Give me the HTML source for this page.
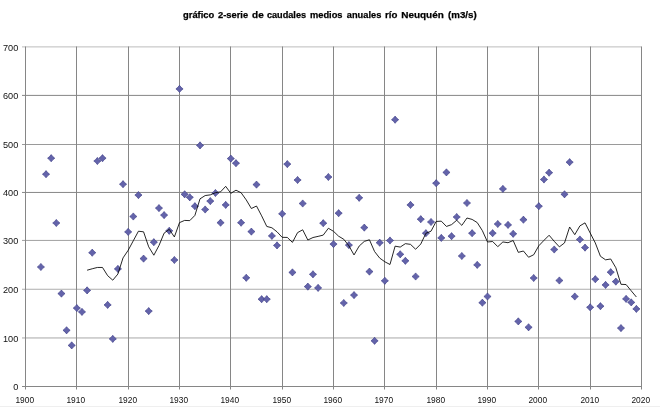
<!DOCTYPE html><html><head><meta charset="utf-8"><style>html,body{margin:0;padding:0;background:#fff;}body{width:660px;height:407px;overflow:hidden;}svg{display:block;will-change:transform;}text{font-family:"Liberation Sans",Arial,sans-serif;}</style></head><body>
<svg width="660" height="407" viewBox="0 0 660 407">
<rect x="0" y="0" width="660" height="407" fill="#fff"/>
<rect x="0" y="406" width="660" height="1" fill="#efefef"/>
<line x1="22" y1="46.9" x2="641.5" y2="46.9" stroke="#bcbcbc" stroke-width="1"/>
<line x1="22" y1="95.4" x2="641.5" y2="95.4" stroke="#868686" stroke-width="1"/>
<line x1="22" y1="144.5" x2="641.5" y2="144.5" stroke="#9a9a9a" stroke-width="1"/>
<line x1="22" y1="192.45" x2="641.5" y2="192.45" stroke="#868686" stroke-width="1"/>
<line x1="22" y1="240.42" x2="641.5" y2="240.42" stroke="#a0a0a0" stroke-width="1"/>
<line x1="22" y1="289.25" x2="641.5" y2="289.25" stroke="#adadad" stroke-width="1"/>
<line x1="22" y1="337.96" x2="641.5" y2="337.96" stroke="#a8a8a8" stroke-width="1"/>
<line x1="25.5" y1="46.5" x2="25.5" y2="389.5" stroke="#868686" stroke-width="1"/>
<line x1="76.5" y1="46.5" x2="76.5" y2="389.5" stroke="#868686" stroke-width="1"/>
<line x1="128.5" y1="46.5" x2="128.5" y2="389.5" stroke="#868686" stroke-width="1"/>
<line x1="179.5" y1="46.5" x2="179.5" y2="389.5" stroke="#868686" stroke-width="1"/>
<line x1="230.5" y1="46.5" x2="230.5" y2="389.5" stroke="#868686" stroke-width="1"/>
<line x1="282.5" y1="46.5" x2="282.5" y2="389.5" stroke="#868686" stroke-width="1"/>
<line x1="333.5" y1="46.5" x2="333.5" y2="389.5" stroke="#868686" stroke-width="1"/>
<line x1="384.5" y1="46.5" x2="384.5" y2="389.5" stroke="#868686" stroke-width="1"/>
<line x1="436.5" y1="46.5" x2="436.5" y2="389.5" stroke="#868686" stroke-width="1"/>
<line x1="487.5" y1="46.5" x2="487.5" y2="389.5" stroke="#868686" stroke-width="1"/>
<line x1="538.5" y1="46.5" x2="538.5" y2="389.5" stroke="#868686" stroke-width="1"/>
<line x1="590.5" y1="46.5" x2="590.5" y2="389.5" stroke="#868686" stroke-width="1"/>
<line x1="641.5" y1="46.5" x2="641.5" y2="389.5" stroke="#868686" stroke-width="1"/>
<line x1="22" y1="386.5" x2="641.5" y2="386.5" stroke="#868686" stroke-width="1"/>
<text x="18.3" y="50.50" font-size="8.2" text-anchor="end" fill="#111" textLength="15.3" lengthAdjust="spacingAndGlyphs">700</text>
<text x="18.3" y="99.00" font-size="8.2" text-anchor="end" fill="#111" textLength="15.3" lengthAdjust="spacingAndGlyphs">600</text>
<text x="18.3" y="148.10" font-size="8.2" text-anchor="end" fill="#111" textLength="15.3" lengthAdjust="spacingAndGlyphs">500</text>
<text x="18.3" y="196.05" font-size="8.2" text-anchor="end" fill="#111" textLength="15.3" lengthAdjust="spacingAndGlyphs">400</text>
<text x="18.3" y="244.02" font-size="8.2" text-anchor="end" fill="#111" textLength="15.3" lengthAdjust="spacingAndGlyphs">300</text>
<text x="18.3" y="292.64" font-size="8.2" text-anchor="end" fill="#111" textLength="15.3" lengthAdjust="spacingAndGlyphs">200</text>
<text x="18.3" y="341.56" font-size="8.2" text-anchor="end" fill="#111" textLength="15.3" lengthAdjust="spacingAndGlyphs">100</text>
<text x="18.3" y="390.10" font-size="8.2" text-anchor="end" fill="#111" textLength="5.1" lengthAdjust="spacingAndGlyphs">0</text>
<text x="24.75" y="403.1" font-size="8.6" text-anchor="middle" fill="#111" textLength="18.6" lengthAdjust="spacingAndGlyphs">1900</text>
<text x="75.75" y="403.1" font-size="8.6" text-anchor="middle" fill="#111" textLength="18.6" lengthAdjust="spacingAndGlyphs">1910</text>
<text x="127.75" y="403.1" font-size="8.6" text-anchor="middle" fill="#111" textLength="18.6" lengthAdjust="spacingAndGlyphs">1920</text>
<text x="178.75" y="403.1" font-size="8.6" text-anchor="middle" fill="#111" textLength="18.6" lengthAdjust="spacingAndGlyphs">1930</text>
<text x="229.75" y="403.1" font-size="8.6" text-anchor="middle" fill="#111" textLength="18.6" lengthAdjust="spacingAndGlyphs">1940</text>
<text x="281.75" y="403.1" font-size="8.6" text-anchor="middle" fill="#111" textLength="18.6" lengthAdjust="spacingAndGlyphs">1950</text>
<text x="332.75" y="403.1" font-size="8.6" text-anchor="middle" fill="#111" textLength="18.6" lengthAdjust="spacingAndGlyphs">1960</text>
<text x="383.75" y="403.1" font-size="8.6" text-anchor="middle" fill="#111" textLength="18.6" lengthAdjust="spacingAndGlyphs">1970</text>
<text x="435.75" y="403.1" font-size="8.6" text-anchor="middle" fill="#111" textLength="18.6" lengthAdjust="spacingAndGlyphs">1980</text>
<text x="486.75" y="403.1" font-size="8.6" text-anchor="middle" fill="#111" textLength="18.6" lengthAdjust="spacingAndGlyphs">1990</text>
<text x="537.75" y="403.1" font-size="8.6" text-anchor="middle" fill="#111" textLength="18.6" lengthAdjust="spacingAndGlyphs">2000</text>
<text x="589.75" y="403.1" font-size="8.6" text-anchor="middle" fill="#111" textLength="18.6" lengthAdjust="spacingAndGlyphs">2010</text>
<text x="640.75" y="403.1" font-size="8.6" text-anchor="middle" fill="#111" textLength="18.6" lengthAdjust="spacingAndGlyphs">2020</text>
<text x="183.0" y="17.5" font-size="9.8" font-weight="bold" fill="#000" stroke="#000" stroke-width="0.25" textLength="31.27" lengthAdjust="spacingAndGlyphs">gráfico</text>
<text x="218.0" y="17.5" font-size="9.8" font-weight="bold" fill="#000" stroke="#000" stroke-width="0.25" textLength="30.15" lengthAdjust="spacingAndGlyphs">2-serie</text>
<text x="252.1" y="17.5" font-size="9.8" font-weight="bold" fill="#000" stroke="#000" stroke-width="0.25" textLength="11.67" lengthAdjust="spacingAndGlyphs">de</text>
<text x="266.9" y="17.5" font-size="9.8" font-weight="bold" fill="#000" stroke="#000" stroke-width="0.25" textLength="39.21" lengthAdjust="spacingAndGlyphs">caudales</text>
<text x="310.0" y="17.5" font-size="9.8" font-weight="bold" fill="#000" stroke="#000" stroke-width="0.25" textLength="32.55" lengthAdjust="spacingAndGlyphs">medios</text>
<text x="346.8" y="17.5" font-size="9.8" font-weight="bold" fill="#000" stroke="#000" stroke-width="0.25" textLength="34.52" lengthAdjust="spacingAndGlyphs">anuales</text>
<text x="385.0" y="17.5" font-size="9.8" font-weight="bold" fill="#000" stroke="#000" stroke-width="0.25" textLength="12.36" lengthAdjust="spacingAndGlyphs">río</text>
<text x="401.2" y="17.5" font-size="9.8" font-weight="bold" fill="#000" stroke="#000" stroke-width="0.25" textLength="42.67" lengthAdjust="spacingAndGlyphs">Neuquén</text>
<text x="448.0" y="17.5" font-size="9.8" font-weight="bold" fill="#000" stroke="#000" stroke-width="0.25" textLength="28.67" lengthAdjust="spacingAndGlyphs">(m3/s)</text>
<polygon points="40.90,263.40 42.52,265.38 44.50,267.00 42.52,268.62 40.90,270.60 39.28,268.62 37.30,267.00 39.28,265.38" fill="#6363aa" stroke="#40408a" stroke-width="0.7"/>
<polygon points="46.03,170.60 47.65,172.58 49.63,174.20 47.65,175.82 46.03,177.80 44.41,175.82 42.43,174.20 44.41,172.58" fill="#6363aa" stroke="#40408a" stroke-width="0.7"/>
<polygon points="51.17,154.60 52.79,156.58 54.77,158.20 52.79,159.82 51.17,161.80 49.55,159.82 47.57,158.20 49.55,156.58" fill="#6363aa" stroke="#40408a" stroke-width="0.7"/>
<polygon points="56.30,219.40 57.92,221.38 59.90,223.00 57.92,224.62 56.30,226.60 54.68,224.62 52.70,223.00 54.68,221.38" fill="#6363aa" stroke="#40408a" stroke-width="0.7"/>
<polygon points="61.43,290.00 63.05,291.98 65.03,293.60 63.05,295.22 61.43,297.20 59.81,295.22 57.83,293.60 59.81,291.98" fill="#6363aa" stroke="#40408a" stroke-width="0.7"/>
<polygon points="66.57,326.70 68.19,328.68 70.17,330.30 68.19,331.92 66.57,333.90 64.95,331.92 62.97,330.30 64.95,328.68" fill="#6363aa" stroke="#40408a" stroke-width="0.7"/>
<polygon points="71.70,341.80 73.32,343.78 75.30,345.40 73.32,347.02 71.70,349.00 70.08,347.02 68.10,345.40 70.08,343.78" fill="#6363aa" stroke="#40408a" stroke-width="0.7"/>
<polygon points="76.83,304.50 78.45,306.48 80.43,308.10 78.45,309.72 76.83,311.70 75.21,309.72 73.23,308.10 75.21,306.48" fill="#6363aa" stroke="#40408a" stroke-width="0.7"/>
<polygon points="81.97,308.30 83.59,310.28 85.57,311.90 83.59,313.52 81.97,315.50 80.35,313.52 78.37,311.90 80.35,310.28" fill="#6363aa" stroke="#40408a" stroke-width="0.7"/>
<polygon points="87.10,286.80 88.72,288.78 90.70,290.40 88.72,292.02 87.10,294.00 85.48,292.02 83.50,290.40 85.48,288.78" fill="#6363aa" stroke="#40408a" stroke-width="0.7"/>
<polygon points="92.23,249.10 93.85,251.08 95.83,252.70 93.85,254.32 92.23,256.30 90.61,254.32 88.63,252.70 90.61,251.08" fill="#6363aa" stroke="#40408a" stroke-width="0.7"/>
<polygon points="97.37,157.40 98.99,159.38 100.97,161.00 98.99,162.62 97.37,164.60 95.75,162.62 93.77,161.00 95.75,159.38" fill="#6363aa" stroke="#40408a" stroke-width="0.7"/>
<polygon points="102.50,154.60 104.12,156.58 106.10,158.20 104.12,159.82 102.50,161.80 100.88,159.82 98.90,158.20 100.88,156.58" fill="#6363aa" stroke="#40408a" stroke-width="0.7"/>
<polygon points="107.63,301.30 109.25,303.28 111.23,304.90 109.25,306.52 107.63,308.50 106.01,306.52 104.03,304.90 106.01,303.28" fill="#6363aa" stroke="#40408a" stroke-width="0.7"/>
<polygon points="112.77,335.30 114.39,337.28 116.37,338.90 114.39,340.52 112.77,342.50 111.15,340.52 109.17,338.90 111.15,337.28" fill="#6363aa" stroke="#40408a" stroke-width="0.7"/>
<polygon points="117.90,265.30 119.52,267.28 121.50,268.90 119.52,270.52 117.90,272.50 116.28,270.52 114.30,268.90 116.28,267.28" fill="#6363aa" stroke="#40408a" stroke-width="0.7"/>
<polygon points="123.03,180.60 124.65,182.58 126.63,184.20 124.65,185.82 123.03,187.80 121.41,185.82 119.43,184.20 121.41,182.58" fill="#6363aa" stroke="#40408a" stroke-width="0.7"/>
<polygon points="128.17,228.30 129.79,230.28 131.77,231.90 129.79,233.52 128.17,235.50 126.55,233.52 124.57,231.90 126.55,230.28" fill="#6363aa" stroke="#40408a" stroke-width="0.7"/>
<polygon points="133.30,212.90 134.92,214.88 136.90,216.50 134.92,218.12 133.30,220.10 131.68,218.12 129.70,216.50 131.68,214.88" fill="#6363aa" stroke="#40408a" stroke-width="0.7"/>
<polygon points="138.43,191.50 140.05,193.48 142.03,195.10 140.05,196.72 138.43,198.70 136.81,196.72 134.83,195.10 136.81,193.48" fill="#6363aa" stroke="#40408a" stroke-width="0.7"/>
<polygon points="143.57,255.00 145.19,256.98 147.17,258.60 145.19,260.22 143.57,262.20 141.95,260.22 139.97,258.60 141.95,256.98" fill="#6363aa" stroke="#40408a" stroke-width="0.7"/>
<polygon points="148.70,307.50 150.32,309.48 152.30,311.10 150.32,312.72 148.70,314.70 147.08,312.72 145.10,311.10 147.08,309.48" fill="#6363aa" stroke="#40408a" stroke-width="0.7"/>
<polygon points="153.83,238.60 155.45,240.58 157.43,242.20 155.45,243.82 153.83,245.80 152.21,243.82 150.23,242.20 152.21,240.58" fill="#6363aa" stroke="#40408a" stroke-width="0.7"/>
<polygon points="158.97,204.50 160.59,206.48 162.57,208.10 160.59,209.72 158.97,211.70 157.35,209.72 155.37,208.10 157.35,206.48" fill="#6363aa" stroke="#40408a" stroke-width="0.7"/>
<polygon points="164.10,211.50 165.72,213.48 167.70,215.10 165.72,216.72 164.10,218.70 162.48,216.72 160.50,215.10 162.48,213.48" fill="#6363aa" stroke="#40408a" stroke-width="0.7"/>
<polygon points="169.23,227.20 170.85,229.18 172.83,230.80 170.85,232.42 169.23,234.40 167.61,232.42 165.63,230.80 167.61,229.18" fill="#6363aa" stroke="#40408a" stroke-width="0.7"/>
<polygon points="174.37,256.40 175.99,258.38 177.97,260.00 175.99,261.62 174.37,263.60 172.75,261.62 170.77,260.00 172.75,258.38" fill="#6363aa" stroke="#40408a" stroke-width="0.7"/>
<polygon points="179.50,85.30 181.12,87.28 183.10,88.90 181.12,90.52 179.50,92.50 177.88,90.52 175.90,88.90 177.88,87.28" fill="#6363aa" stroke="#40408a" stroke-width="0.7"/>
<polygon points="184.63,190.70 186.25,192.68 188.23,194.30 186.25,195.92 184.63,197.90 183.01,195.92 181.03,194.30 183.01,192.68" fill="#6363aa" stroke="#40408a" stroke-width="0.7"/>
<polygon points="189.77,193.70 191.39,195.68 193.37,197.30 191.39,198.92 189.77,200.90 188.15,198.92 186.17,197.30 188.15,195.68" fill="#6363aa" stroke="#40408a" stroke-width="0.7"/>
<polygon points="194.90,202.60 196.52,204.58 198.50,206.20 196.52,207.82 194.90,209.80 193.28,207.82 191.30,206.20 193.28,204.58" fill="#6363aa" stroke="#40408a" stroke-width="0.7"/>
<polygon points="200.03,141.80 201.65,143.78 203.63,145.40 201.65,147.02 200.03,149.00 198.41,147.02 196.43,145.40 198.41,143.78" fill="#6363aa" stroke="#40408a" stroke-width="0.7"/>
<polygon points="205.17,205.90 206.79,207.88 208.77,209.50 206.79,211.12 205.17,213.10 203.55,211.12 201.57,209.50 203.55,207.88" fill="#6363aa" stroke="#40408a" stroke-width="0.7"/>
<polygon points="210.30,197.50 211.92,199.48 213.90,201.10 211.92,202.72 210.30,204.70 208.68,202.72 206.70,201.10 208.68,199.48" fill="#6363aa" stroke="#40408a" stroke-width="0.7"/>
<polygon points="215.43,189.40 217.05,191.38 219.03,193.00 217.05,194.62 215.43,196.60 213.81,194.62 211.83,193.00 213.81,191.38" fill="#6363aa" stroke="#40408a" stroke-width="0.7"/>
<polygon points="220.57,219.10 222.19,221.08 224.17,222.70 222.19,224.32 220.57,226.30 218.95,224.32 216.97,222.70 218.95,221.08" fill="#6363aa" stroke="#40408a" stroke-width="0.7"/>
<polygon points="225.70,201.30 227.32,203.28 229.30,204.90 227.32,206.52 225.70,208.50 224.08,206.52 222.10,204.90 224.08,203.28" fill="#6363aa" stroke="#40408a" stroke-width="0.7"/>
<polygon points="230.83,155.00 232.45,156.98 234.43,158.60 232.45,160.22 230.83,162.20 229.21,160.22 227.23,158.60 229.21,156.98" fill="#6363aa" stroke="#40408a" stroke-width="0.7"/>
<polygon points="235.97,159.60 237.59,161.58 239.57,163.20 237.59,164.82 235.97,166.80 234.35,164.82 232.37,163.20 234.35,161.58" fill="#6363aa" stroke="#40408a" stroke-width="0.7"/>
<polygon points="241.10,219.10 242.72,221.08 244.70,222.70 242.72,224.32 241.10,226.30 239.48,224.32 237.50,222.70 239.48,221.08" fill="#6363aa" stroke="#40408a" stroke-width="0.7"/>
<polygon points="246.23,274.20 247.85,276.18 249.83,277.80 247.85,279.42 246.23,281.40 244.61,279.42 242.63,277.80 244.61,276.18" fill="#6363aa" stroke="#40408a" stroke-width="0.7"/>
<polygon points="251.37,228.00 252.99,229.98 254.97,231.60 252.99,233.22 251.37,235.20 249.75,233.22 247.77,231.60 249.75,229.98" fill="#6363aa" stroke="#40408a" stroke-width="0.7"/>
<polygon points="256.50,181.00 258.12,182.98 260.10,184.60 258.12,186.22 256.50,188.20 254.88,186.22 252.90,184.60 254.88,182.98" fill="#6363aa" stroke="#40408a" stroke-width="0.7"/>
<polygon points="261.63,295.60 263.25,297.58 265.23,299.20 263.25,300.82 261.63,302.80 260.01,300.82 258.03,299.20 260.01,297.58" fill="#6363aa" stroke="#40408a" stroke-width="0.7"/>
<polygon points="266.77,295.60 268.39,297.58 270.37,299.20 268.39,300.82 266.77,302.80 265.15,300.82 263.17,299.20 265.15,297.58" fill="#6363aa" stroke="#40408a" stroke-width="0.7"/>
<polygon points="271.90,232.30 273.52,234.28 275.50,235.90 273.52,237.52 271.90,239.50 270.28,237.52 268.30,235.90 270.28,234.28" fill="#6363aa" stroke="#40408a" stroke-width="0.7"/>
<polygon points="277.03,241.80 278.65,243.78 280.63,245.40 278.65,247.02 277.03,249.00 275.41,247.02 273.43,245.40 275.41,243.78" fill="#6363aa" stroke="#40408a" stroke-width="0.7"/>
<polygon points="282.17,210.20 283.79,212.18 285.77,213.80 283.79,215.42 282.17,217.40 280.55,215.42 278.57,213.80 280.55,212.18" fill="#6363aa" stroke="#40408a" stroke-width="0.7"/>
<polygon points="287.30,160.50 288.92,162.48 290.90,164.10 288.92,165.72 287.30,167.70 285.68,165.72 283.70,164.10 285.68,162.48" fill="#6363aa" stroke="#40408a" stroke-width="0.7"/>
<polygon points="292.43,268.80 294.05,270.78 296.03,272.40 294.05,274.02 292.43,276.00 290.81,274.02 288.83,272.40 290.81,270.78" fill="#6363aa" stroke="#40408a" stroke-width="0.7"/>
<polygon points="297.57,176.40 299.19,178.38 301.17,180.00 299.19,181.62 297.57,183.60 295.95,181.62 293.97,180.00 295.95,178.38" fill="#6363aa" stroke="#40408a" stroke-width="0.7"/>
<polygon points="302.70,199.90 304.32,201.88 306.30,203.50 304.32,205.12 302.70,207.10 301.08,205.12 299.10,203.50 301.08,201.88" fill="#6363aa" stroke="#40408a" stroke-width="0.7"/>
<polygon points="307.83,283.00 309.45,284.98 311.43,286.60 309.45,288.22 307.83,290.20 306.21,288.22 304.23,286.60 306.21,284.98" fill="#6363aa" stroke="#40408a" stroke-width="0.7"/>
<polygon points="312.97,270.70 314.59,272.68 316.57,274.30 314.59,275.92 312.97,277.90 311.35,275.92 309.37,274.30 311.35,272.68" fill="#6363aa" stroke="#40408a" stroke-width="0.7"/>
<polygon points="318.10,284.30 319.72,286.28 321.70,287.90 319.72,289.52 318.10,291.50 316.48,289.52 314.50,287.90 316.48,286.28" fill="#6363aa" stroke="#40408a" stroke-width="0.7"/>
<polygon points="323.23,219.60 324.85,221.58 326.83,223.20 324.85,224.82 323.23,226.80 321.61,224.82 319.63,223.20 321.61,221.58" fill="#6363aa" stroke="#40408a" stroke-width="0.7"/>
<polygon points="328.37,173.40 329.99,175.38 331.97,177.00 329.99,178.62 328.37,180.60 326.75,178.62 324.77,177.00 326.75,175.38" fill="#6363aa" stroke="#40408a" stroke-width="0.7"/>
<polygon points="333.50,240.50 335.12,242.48 337.10,244.10 335.12,245.72 333.50,247.70 331.88,245.72 329.90,244.10 331.88,242.48" fill="#6363aa" stroke="#40408a" stroke-width="0.7"/>
<polygon points="338.63,209.60 340.25,211.58 342.23,213.20 340.25,214.82 338.63,216.80 337.01,214.82 335.03,213.20 337.01,211.58" fill="#6363aa" stroke="#40408a" stroke-width="0.7"/>
<polygon points="343.77,299.40 345.39,301.38 347.37,303.00 345.39,304.62 343.77,306.60 342.15,304.62 340.17,303.00 342.15,301.38" fill="#6363aa" stroke="#40408a" stroke-width="0.7"/>
<polygon points="348.90,241.50 350.52,243.48 352.50,245.10 350.52,246.72 348.90,248.70 347.28,246.72 345.30,245.10 347.28,243.48" fill="#6363aa" stroke="#40408a" stroke-width="0.7"/>
<polygon points="354.03,291.50 355.65,293.48 357.63,295.10 355.65,296.72 354.03,298.70 352.41,296.72 350.43,295.10 352.41,293.48" fill="#6363aa" stroke="#40408a" stroke-width="0.7"/>
<polygon points="359.17,194.20 360.79,196.18 362.77,197.80 360.79,199.42 359.17,201.40 357.55,199.42 355.57,197.80 357.55,196.18" fill="#6363aa" stroke="#40408a" stroke-width="0.7"/>
<polygon points="364.30,224.00 365.92,225.98 367.90,227.60 365.92,229.22 364.30,231.20 362.68,229.22 360.70,227.60 362.68,225.98" fill="#6363aa" stroke="#40408a" stroke-width="0.7"/>
<polygon points="369.43,268.00 371.05,269.98 373.03,271.60 371.05,273.22 369.43,275.20 367.81,273.22 365.83,271.60 367.81,269.98" fill="#6363aa" stroke="#40408a" stroke-width="0.7"/>
<polygon points="374.57,337.20 376.19,339.18 378.17,340.80 376.19,342.42 374.57,344.40 372.95,342.42 370.97,340.80 372.95,339.18" fill="#6363aa" stroke="#40408a" stroke-width="0.7"/>
<polygon points="379.70,239.10 381.32,241.08 383.30,242.70 381.32,244.32 379.70,246.30 378.08,244.32 376.10,242.70 378.08,241.08" fill="#6363aa" stroke="#40408a" stroke-width="0.7"/>
<polygon points="384.83,277.20 386.45,279.18 388.43,280.80 386.45,282.42 384.83,284.40 383.21,282.42 381.23,280.80 383.21,279.18" fill="#6363aa" stroke="#40408a" stroke-width="0.7"/>
<polygon points="389.97,236.90 391.59,238.88 393.57,240.50 391.59,242.12 389.97,244.10 388.35,242.12 386.37,240.50 388.35,238.88" fill="#6363aa" stroke="#40408a" stroke-width="0.7"/>
<polygon points="395.10,116.10 396.72,118.08 398.70,119.70 396.72,121.32 395.10,123.30 393.48,121.32 391.50,119.70 393.48,118.08" fill="#6363aa" stroke="#40408a" stroke-width="0.7"/>
<polygon points="400.23,250.70 401.85,252.68 403.83,254.30 401.85,255.92 400.23,257.90 398.61,255.92 396.63,254.30 398.61,252.68" fill="#6363aa" stroke="#40408a" stroke-width="0.7"/>
<polygon points="405.37,257.20 406.99,259.18 408.97,260.80 406.99,262.42 405.37,264.40 403.75,262.42 401.77,260.80 403.75,259.18" fill="#6363aa" stroke="#40408a" stroke-width="0.7"/>
<polygon points="410.50,201.30 412.12,203.28 414.10,204.90 412.12,206.52 410.50,208.50 408.88,206.52 406.90,204.90 408.88,203.28" fill="#6363aa" stroke="#40408a" stroke-width="0.7"/>
<polygon points="415.63,272.90 417.25,274.88 419.23,276.50 417.25,278.12 415.63,280.10 414.01,278.12 412.03,276.50 414.01,274.88" fill="#6363aa" stroke="#40408a" stroke-width="0.7"/>
<polygon points="420.77,215.60 422.39,217.58 424.37,219.20 422.39,220.82 420.77,222.80 419.15,220.82 417.17,219.20 419.15,217.58" fill="#6363aa" stroke="#40408a" stroke-width="0.7"/>
<polygon points="425.90,229.60 427.52,231.58 429.50,233.20 427.52,234.82 425.90,236.80 424.28,234.82 422.30,233.20 424.28,231.58" fill="#6363aa" stroke="#40408a" stroke-width="0.7"/>
<polygon points="431.03,218.40 432.65,220.38 434.63,222.00 432.65,223.62 431.03,225.60 429.41,223.62 427.43,222.00 429.41,220.38" fill="#6363aa" stroke="#40408a" stroke-width="0.7"/>
<polygon points="436.17,179.60 437.79,181.58 439.77,183.20 437.79,184.82 436.17,186.80 434.55,184.82 432.57,183.20 434.55,181.58" fill="#6363aa" stroke="#40408a" stroke-width="0.7"/>
<polygon points="441.30,234.30 442.92,236.28 444.90,237.90 442.92,239.52 441.30,241.50 439.68,239.52 437.70,237.90 439.68,236.28" fill="#6363aa" stroke="#40408a" stroke-width="0.7"/>
<polygon points="446.43,168.80 448.05,170.78 450.03,172.40 448.05,174.02 446.43,176.00 444.81,174.02 442.83,172.40 444.81,170.78" fill="#6363aa" stroke="#40408a" stroke-width="0.7"/>
<polygon points="451.57,232.60 453.19,234.58 455.17,236.20 453.19,237.82 451.57,239.80 449.95,237.82 447.97,236.20 449.95,234.58" fill="#6363aa" stroke="#40408a" stroke-width="0.7"/>
<polygon points="456.70,213.40 458.32,215.38 460.30,217.00 458.32,218.62 456.70,220.60 455.08,218.62 453.10,217.00 455.08,215.38" fill="#6363aa" stroke="#40408a" stroke-width="0.7"/>
<polygon points="461.83,252.40 463.45,254.38 465.43,256.00 463.45,257.62 461.83,259.60 460.21,257.62 458.23,256.00 460.21,254.38" fill="#6363aa" stroke="#40408a" stroke-width="0.7"/>
<polygon points="466.97,199.40 468.59,201.38 470.57,203.00 468.59,204.62 466.97,206.60 465.35,204.62 463.37,203.00 465.35,201.38" fill="#6363aa" stroke="#40408a" stroke-width="0.7"/>
<polygon points="472.10,229.60 473.72,231.58 475.70,233.20 473.72,234.82 472.10,236.80 470.48,234.82 468.50,233.20 470.48,231.58" fill="#6363aa" stroke="#40408a" stroke-width="0.7"/>
<polygon points="477.23,261.30 478.85,263.28 480.83,264.90 478.85,266.52 477.23,268.50 475.61,266.52 473.63,264.90 475.61,263.28" fill="#6363aa" stroke="#40408a" stroke-width="0.7"/>
<polygon points="482.37,299.10 483.99,301.08 485.97,302.70 483.99,304.32 482.37,306.30 480.75,304.32 478.77,302.70 480.75,301.08" fill="#6363aa" stroke="#40408a" stroke-width="0.7"/>
<polygon points="487.50,292.90 489.12,294.88 491.10,296.50 489.12,298.12 487.50,300.10 485.88,298.12 483.90,296.50 485.88,294.88" fill="#6363aa" stroke="#40408a" stroke-width="0.7"/>
<polygon points="492.63,229.60 494.25,231.58 496.23,233.20 494.25,234.82 492.63,236.80 491.01,234.82 489.03,233.20 491.01,231.58" fill="#6363aa" stroke="#40408a" stroke-width="0.7"/>
<polygon points="497.77,220.40 499.39,222.38 501.37,224.00 499.39,225.62 497.77,227.60 496.15,225.62 494.17,224.00 496.15,222.38" fill="#6363aa" stroke="#40408a" stroke-width="0.7"/>
<polygon points="502.90,185.30 504.52,187.28 506.50,188.90 504.52,190.52 502.90,192.50 501.28,190.52 499.30,188.90 501.28,187.28" fill="#6363aa" stroke="#40408a" stroke-width="0.7"/>
<polygon points="508.03,221.30 509.65,223.28 511.63,224.90 509.65,226.52 508.03,228.50 506.41,226.52 504.43,224.90 506.41,223.28" fill="#6363aa" stroke="#40408a" stroke-width="0.7"/>
<polygon points="513.17,230.20 514.79,232.18 516.77,233.80 514.79,235.42 513.17,237.40 511.55,235.42 509.57,233.80 511.55,232.18" fill="#6363aa" stroke="#40408a" stroke-width="0.7"/>
<polygon points="518.30,317.80 519.92,319.78 521.90,321.40 519.92,323.02 518.30,325.00 516.68,323.02 514.70,321.40 516.68,319.78" fill="#6363aa" stroke="#40408a" stroke-width="0.7"/>
<polygon points="523.43,216.10 525.05,218.08 527.03,219.70 525.05,221.32 523.43,223.30 521.81,221.32 519.83,219.70 521.81,218.08" fill="#6363aa" stroke="#40408a" stroke-width="0.7"/>
<polygon points="528.57,323.70 530.19,325.68 532.17,327.30 530.19,328.92 528.57,330.90 526.95,328.92 524.97,327.30 526.95,325.68" fill="#6363aa" stroke="#40408a" stroke-width="0.7"/>
<polygon points="533.70,274.40 535.32,276.38 537.30,278.00 535.32,279.62 533.70,281.60 532.08,279.62 530.10,278.00 532.08,276.38" fill="#6363aa" stroke="#40408a" stroke-width="0.7"/>
<polygon points="538.83,202.60 540.45,204.58 542.43,206.20 540.45,207.82 538.83,209.80 537.21,207.82 535.23,206.20 537.21,204.58" fill="#6363aa" stroke="#40408a" stroke-width="0.7"/>
<polygon points="543.97,175.90 545.59,177.88 547.57,179.50 545.59,181.12 543.97,183.10 542.35,181.12 540.37,179.50 542.35,177.88" fill="#6363aa" stroke="#40408a" stroke-width="0.7"/>
<polygon points="549.10,169.10 550.72,171.08 552.70,172.70 550.72,174.32 549.10,176.30 547.48,174.32 545.50,172.70 547.48,171.08" fill="#6363aa" stroke="#40408a" stroke-width="0.7"/>
<polygon points="554.23,245.90 555.85,247.88 557.83,249.50 555.85,251.12 554.23,253.10 552.61,251.12 550.63,249.50 552.61,247.88" fill="#6363aa" stroke="#40408a" stroke-width="0.7"/>
<polygon points="559.37,276.90 560.99,278.88 562.97,280.50 560.99,282.12 559.37,284.10 557.75,282.12 555.77,280.50 557.75,278.88" fill="#6363aa" stroke="#40408a" stroke-width="0.7"/>
<polygon points="564.50,190.70 566.12,192.68 568.10,194.30 566.12,195.92 564.50,197.90 562.88,195.92 560.90,194.30 562.88,192.68" fill="#6363aa" stroke="#40408a" stroke-width="0.7"/>
<polygon points="569.63,158.60 571.25,160.58 573.23,162.20 571.25,163.82 569.63,165.80 568.01,163.82 566.03,162.20 568.01,160.58" fill="#6363aa" stroke="#40408a" stroke-width="0.7"/>
<polygon points="574.77,292.90 576.39,294.88 578.37,296.50 576.39,298.12 574.77,300.10 573.15,298.12 571.17,296.50 573.15,294.88" fill="#6363aa" stroke="#40408a" stroke-width="0.7"/>
<polygon points="579.90,235.90 581.52,237.88 583.50,239.50 581.52,241.12 579.90,243.10 578.28,241.12 576.30,239.50 578.28,237.88" fill="#6363aa" stroke="#40408a" stroke-width="0.7"/>
<polygon points="585.03,244.00 586.65,245.98 588.63,247.60 586.65,249.22 585.03,251.20 583.41,249.22 581.43,247.60 583.41,245.98" fill="#6363aa" stroke="#40408a" stroke-width="0.7"/>
<polygon points="590.17,303.70 591.79,305.68 593.77,307.30 591.79,308.92 590.17,310.90 588.55,308.92 586.57,307.30 588.55,305.68" fill="#6363aa" stroke="#40408a" stroke-width="0.7"/>
<polygon points="595.30,275.60 596.92,277.58 598.90,279.20 596.92,280.82 595.30,282.80 593.68,280.82 591.70,279.20 593.68,277.58" fill="#6363aa" stroke="#40408a" stroke-width="0.7"/>
<polygon points="600.43,302.60 602.05,304.58 604.03,306.20 602.05,307.82 600.43,309.80 598.81,307.82 596.83,306.20 598.81,304.58" fill="#6363aa" stroke="#40408a" stroke-width="0.7"/>
<polygon points="605.57,281.30 607.19,283.28 609.17,284.90 607.19,286.52 605.57,288.50 603.95,286.52 601.97,284.90 603.95,283.28" fill="#6363aa" stroke="#40408a" stroke-width="0.7"/>
<polygon points="610.70,268.60 612.32,270.58 614.30,272.20 612.32,273.82 610.70,275.80 609.08,273.82 607.10,272.20 609.08,270.58" fill="#6363aa" stroke="#40408a" stroke-width="0.7"/>
<polygon points="615.83,278.00 617.45,279.98 619.43,281.60 617.45,283.22 615.83,285.20 614.21,283.22 612.23,281.60 614.21,279.98" fill="#6363aa" stroke="#40408a" stroke-width="0.7"/>
<polygon points="620.97,324.50 622.59,326.48 624.57,328.10 622.59,329.72 620.97,331.70 619.35,329.72 617.37,328.10 619.35,326.48" fill="#6363aa" stroke="#40408a" stroke-width="0.7"/>
<polygon points="626.10,295.30 627.72,297.28 629.70,298.90 627.72,300.52 626.10,302.50 624.48,300.52 622.50,298.90 624.48,297.28" fill="#6363aa" stroke="#40408a" stroke-width="0.7"/>
<polygon points="631.23,298.80 632.85,300.78 634.83,302.40 632.85,304.02 631.23,306.00 629.61,304.02 627.63,302.40 629.61,300.78" fill="#6363aa" stroke="#40408a" stroke-width="0.7"/>
<polygon points="636.37,305.30 637.99,307.28 639.97,308.90 637.99,310.52 636.37,312.50 634.75,310.52 632.77,308.90 634.75,307.28" fill="#6363aa" stroke="#40408a" stroke-width="0.7"/>
<polyline points="87.10,270.21 92.23,268.78 97.37,267.46 102.50,267.46 107.63,275.65 112.77,280.18 117.90,274.04 123.03,257.92 128.17,250.30 133.30,240.76 138.43,231.23 143.57,231.82 148.70,246.83 153.83,255.23 158.97,245.55 164.10,233.17 169.23,229.36 174.37,236.94 179.50,222.64 184.63,220.42 189.77,220.64 194.90,215.40 200.03,198.83 205.17,195.56 210.30,194.86 215.43,192.65 220.57,191.84 225.70,186.33 230.83,193.30 235.97,190.19 241.10,192.73 246.23,199.89 251.37,208.51 256.50,206.02 261.63,215.83 266.77,226.45 271.90,227.77 277.03,231.82 282.17,237.34 287.30,237.43 292.43,242.40 297.57,232.62 302.70,229.81 307.83,240.01 312.97,237.52 318.10,236.39 323.23,235.12 328.37,228.28 333.50,231.31 338.63,236.22 343.77,239.28 348.90,245.79 354.03,254.95 359.17,246.07 364.30,241.40 369.43,239.77 374.57,251.53 379.70,258.10 384.83,261.77 389.97,264.50 395.10,246.17 400.23,247.09 405.37,243.66 410.50,244.37 415.63,249.26 420.77,244.02 425.90,233.26 431.03,231.19 436.17,221.43 441.30,221.17 446.43,226.44 451.57,224.63 456.70,220.25 461.83,225.36 466.97,218.01 472.10,219.41 477.23,222.58 482.37,230.65 487.50,241.98 492.63,241.51 497.77,246.67 502.90,241.94 508.03,242.73 513.17,240.51 518.30,252.35 523.43,251.00 528.57,257.24 533.70,254.77 538.83,245.74 543.97,240.37 549.10,235.24 554.23,241.30 559.37,246.86 564.50,242.91 569.63,226.99 574.77,234.67 579.90,225.89 585.03,222.85 590.17,232.96 595.30,242.93 600.43,256.28 605.57,259.82 610.70,258.99 615.83,267.72 620.97,284.31 626.10,284.55 631.23,290.84 636.37,296.97" fill="none" stroke="#000" stroke-width="0.85"/>
</svg></body></html>
